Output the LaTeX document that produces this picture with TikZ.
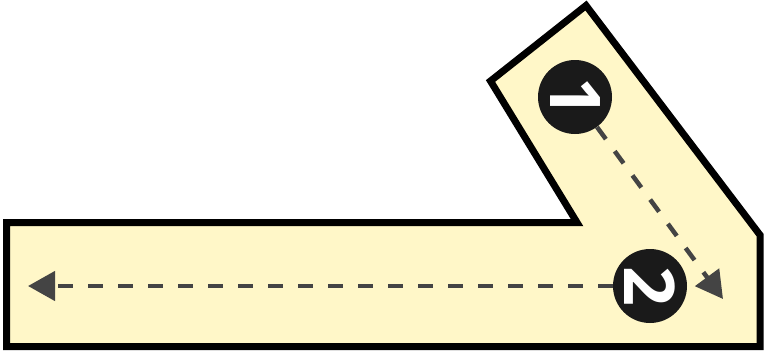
\documentclass[tikz,border=0pt]{standalone}
\usepackage{fontspec}
\newfontfamily\badgefont{Open Sans}
\usetikzlibrary{arrows.meta}
\definecolor{fillyellow}{HTML}{FFF7C8}
\definecolor{darkgray}{HTML}{444444}
\definecolor{badge}{HTML}{1A1A1A}
\begin{document}
\begin{tikzpicture}[x=1pt,y=-1pt,
  outline/.style={draw=black,line width=7pt,fill=fillyellow,line join=miter},
  stepbadge/.style={circle,fill=badge,minimum size=74pt,inner sep=0pt,text=white,
    font=\badgefont\bfseries\fontsize{70}{70}\selectfont,rotate=-90},
  dasharrow/.style={draw=darkgray,line width=4.5pt,dash pattern=on 15pt off 15pt,
    -{Triangle[length=27pt,width=29pt]}}]
\useasboundingbox (0,0) rectangle (765,357);
\draw[outline] (6.5,222.5) -- (577,222.5) -- (490.5,81) -- (586,5.5) -- (760,235)
  -- (760,346.5) -- (6.5,346.5) -- cycle;
\node[stepbadge] (c1) at (575,97) {1};
\node[stepbadge] (c2) at (650,286) {2};
\coordinate (t1) at (723,299);
\coordinate (t2) at (28,286);
\draw[dasharrow] (c1) -- (t1);
\draw[dasharrow] (c2) -- (t2);
\end{tikzpicture}
\end{document}
